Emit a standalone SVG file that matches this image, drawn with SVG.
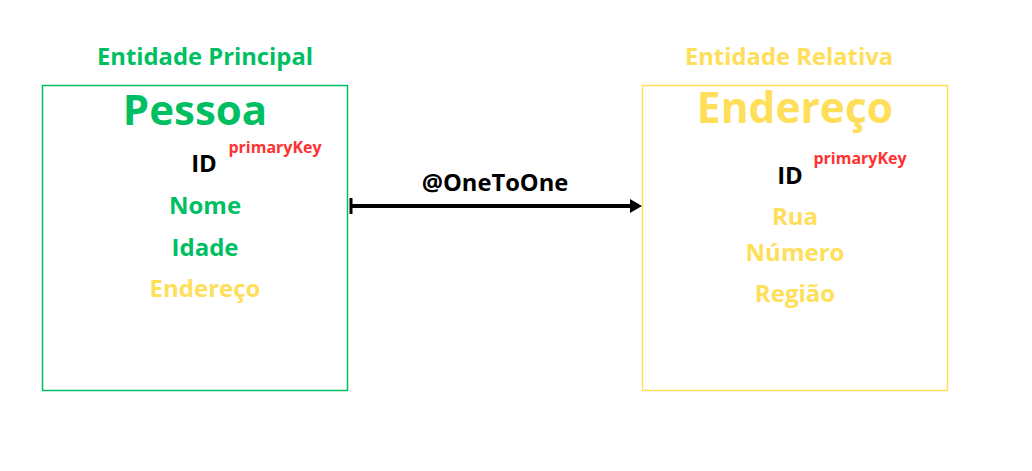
<svg xmlns="http://www.w3.org/2000/svg" width="1032" height="471" viewBox="0 0 1032 471">
<style>
text{font-family:"Open Sans","Noto Sans","Liberation Sans",sans-serif;font-weight:700;text-anchor:middle}
.g{fill:#00BF63}.y{fill:#FFDE59}.r{fill:#FF3131}.k{fill:#000}
</style>
<rect width="1032" height="471" fill="#fff"/>
<g id="pessoa">
<text x="205" y="65" class="g" font-size="23.8">Entidade Principal</text>
<rect x="42.5" y="85.5" width="305" height="305" fill="none" stroke="#00BF63" stroke-width="1.5"/>
<text x="195" y="125" class="g" font-size="42">Pessoa</text>
<text x="204" y="172" class="k" font-size="24">ID</text>
<text x="275" y="153" class="r" font-size="16">primaryKey</text>
<text x="205" y="214" class="g" font-size="24">Nome</text>
<text x="205" y="256" class="g" font-size="24">Idade</text>
<text x="205" y="297" class="y" font-size="24">Endereço</text>
</g>
<g id="endereco">
<text x="789" y="65" class="y" font-size="23.8">Entidade Relativa</text>
<rect x="642.5" y="85.5" width="305" height="305" fill="none" stroke="#FFDE59" stroke-width="1.5"/>
<text x="795" y="123" class="y" font-size="42.5">Endereço</text>
<text x="790" y="184" class="k" font-size="24">ID</text>
<text x="860" y="164" class="r" font-size="16">primaryKey</text>
<text x="795" y="225" class="y" font-size="24">Rua</text>
<text x="795" y="261" class="y" font-size="24">Número</text>
<text x="795" y="302" class="y" font-size="24">Região</text>
</g>
<g id="connectors">
<line x1="351" y1="206" x2="630" y2="206" stroke="#000" stroke-width="4"/>
<path d="M630,199 L642,206 L630,213 Z" fill="#000"/>
<line x1="351" y1="198" x2="351" y2="214" stroke="#000" stroke-width="3"/>
<text x="495" y="191" class="k" font-size="23.7">@OneToOne</text>
</g>
</svg>
